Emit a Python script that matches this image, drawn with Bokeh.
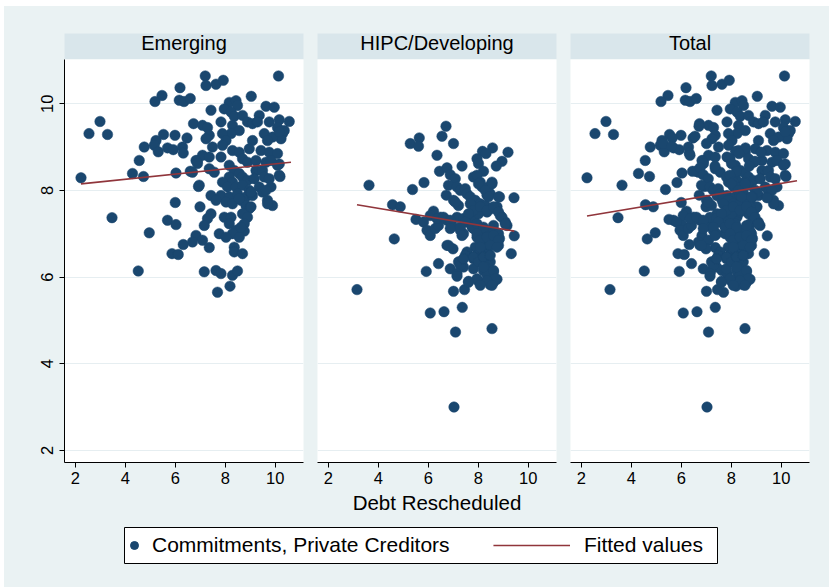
from bokeh.plotting import figure
from bokeh.layouts import row, column, Spacer
from bokeh.models import Range1d, FixedTicker, Label, Legend, LegendItem
from bokeh.embed import file_html
from bokeh.resources import INLINE

# ---------------- data ----------------
panel_titles = ["Emerging", "HIPC/Developing", "Total"]
x_title = "Debt Rescheduled"
series_label = "Commitments, Private Creditors"
fit_label = "Fitted values"
x_ticks = [2, 4, 6, 8, 10]
y_ticks = [2, 4, 6, 8, 10]

emerging_x = [
    7.20, 7.23, 7.63, 7.92, 10.13, 6.19, 5.47, 5.19, 6.16, 6.35,
    6.60, 9.04, 2.99, 2.55, 3.29, 2.23, 7.43, 6.73, 5.99, 5.53,
    5.23, 5.16, 4.76, 5.32, 5.69, 5.92, 6.29, 6.32, 6.47, 4.56,
    6.89, 4.29, 4.73, 6.03, 6.60, 6.93, 6.00, 6.99, 3.47, 5.69,
    10.56, 10.29, 10.23, 10.16, 10.19, 8.16, 8.43, 8.49, 7.96, 8.23,
    8.36, 9.63, 9.96, 8.69, 8.89, 9.09, 9.36, 9.29, 9.76, 10.16,
    10.09, 10.36, 7.09, 7.29, 7.83, 8.29, 8.56, 8.23, 7.89, 8.03,
    7.36, 7.23, 9.09, 9.56, 9.89, 10.16, 9.69, 7.49, 7.89, 8.29,
    8.56, 8.96, 9.43, 9.76, 10.09, 7.09, 6.83, 6.89, 7.36, 7.83,
    8.69, 8.89, 9.23, 9.63, 9.83, 8.16, 8.36, 8.56, 9.23, 9.49,
    10.09, 10.16, 6.69, 7.36, 7.56, 8.16, 8.29, 8.69, 8.89, 9.16,
    9.56, 9.76, 6.96, 7.89, 8.09, 8.43, 8.69, 8.96, 9.36, 9.49,
    9.83, 7.43, 7.83, 8.16, 8.49, 8.83, 9.09, 9.63, 9.69, 8.03,
    8.29, 8.63, 8.83, 8.96, 9.89, 7.43, 7.29, 7.16, 7.96, 8.23,
    8.16, 8.69, 8.89, 8.76, 8.43, 8.76, 8.29, 8.56, 6.83, 7.09,
    6.69, 7.36, 7.76, 8.03, 8.36, 8.36, 8.69, 7.16, 7.63, 7.83,
    8.29, 8.49, 7.69, 8.19, 6.03, 4.96, 6.32, 5.87, 6.12, 4.52,
    9.03, 9.69, 7.63, 8.56, 8.63, 9.03,
]
emerging_y = [
    10.64, 10.42, 10.45, 10.54, 10.64, 10.37, 10.19, 10.05, 10.08, 10.05,
    10.12, 10.17, 9.59, 9.31, 9.29, 8.29, 9.85, 9.54, 9.27, 9.29,
    9.15, 9.04, 9.00, 8.89, 8.98, 8.94, 9.00, 8.86, 9.21, 8.69,
    8.69, 8.39, 8.32, 8.40, 8.44, 8.09, 7.72, 7.62, 7.37, 7.31,
    9.59, 9.31, 9.19, 8.61, 8.32, 10.03, 10.07, 9.96, 9.88, 9.81,
    9.71, 9.94, 9.92, 9.73, 9.58, 9.54, 9.73, 9.58, 9.58, 9.63,
    9.45, 9.38, 9.50, 9.45, 9.58, 9.50, 9.38, 9.31, 9.31, 9.15,
    9.27, 9.19, 9.15, 9.31, 9.23, 9.35, 9.15, 9.00, 9.04, 8.92,
    8.88, 8.96, 8.92, 8.88, 8.85, 8.81, 8.69, 8.62, 8.77, 8.77,
    8.73, 8.65, 8.69, 8.65, 8.69, 8.58, 8.46, 8.39, 8.46, 8.46,
    8.58, 8.35, 8.42, 8.50, 8.42, 8.31, 8.19, 8.31, 8.23, 8.27,
    8.31, 8.27, 8.12, 8.19, 8.08, 8.08, 8.12, 8.00, 8.08, 7.96,
    8.08, 7.88, 7.88, 7.85, 7.92, 7.85, 7.88, 8.00, 7.77, 7.73,
    7.69, 7.77, 7.65, 7.58, 7.65, 7.46, 7.35, 7.19, 7.38, 7.38,
    7.23, 7.46, 7.38, 7.23, 7.08, 7.06, 7.00, 6.92, 6.96, 6.85,
    6.81, 6.68, 7.00, 6.92, 6.69, 6.58, 6.54, 6.12, 6.15, 6.08,
    6.04, 6.14, 5.65, 5.79, 7.21, 7.02, 6.75, 6.54, 6.52, 6.14,
    7.62, 7.69, 7.77, 7.81, 7.15, 7.96,
]

hipc_x = [
    6.71, 6.55, 5.64, 5.28, 5.61, 7.01, 6.35, 8.17, 8.57, 8.31,
    9.19, 7.95, 8.01, 8.95, 8.72, 7.35, 6.45, 6.75, 6.88, 7.08,
    8.21, 7.81, 7.95, 8.08, 8.15, 8.55, 8.41, 8.35, 8.48, 6.81,
    7.15, 7.28, 7.48, 7.55, 3.63, 5.37, 5.83, 6.72, 7.01, 7.21,
    7.68, 7.88, 8.08, 8.28, 8.85, 9.43, 8.75, 8.55, 8.35, 4.57,
    4.88, 6.21, 6.08, 5.51, 6.48, 6.75, 6.95, 7.15, 7.41, 7.61,
    7.81, 8.01, 8.88, 9.08, 9.15, 5.81, 5.95, 6.08, 6.28, 6.41,
    7.28, 7.41, 7.81, 8.08, 8.35, 8.61, 8.81, 8.85, 9.44, 4.64,
    7.95, 8.21, 8.08, 7.88, 8.35, 8.61, 8.81, 6.75, 6.99, 7.55,
    7.48, 7.81, 7.95, 8.21, 8.41, 8.35, 8.48, 9.32, 6.41, 7.21,
    7.41, 7.28, 5.92, 6.88, 7.15, 7.81, 8.21, 8.61, 8.41, 8.28,
    8.35, 8.75, 8.01, 7.61, 8.48, 8.61, 7.15, 7.01, 7.45, 3.15,
    6.08, 6.63, 7.36, 7.09, 8.55, 7.03, 8.01, 8.55, 8.28, 8.41,
    8.81, 7.08, 7.68, 7.81, 7.61, 8.08, 8.35, 8.61, 8.81, 8.95,
    6.35, 6.61, 6.88, 7.48, 6.88, 7.28, 7.35, 7.75, 7.95, 8.21,
    8.61, 9.08, 7.95, 8.08, 8.35, 8.61, 8.81, 8.48, 8.08, 8.75,
    6.81, 7.41, 7.81, 8.01, 8.21, 8.48, 8.21, 8.61, 8.68, 8.35,
    7.95, 7.61, 8.08, 8.55,
]
hipc_y = [
    9.48, 9.25, 9.21, 9.08, 9.02, 9.08, 8.81, 8.90, 8.98, 8.85,
    8.88, 8.73, 8.62, 8.67, 8.56, 8.56, 8.44, 8.52, 8.36, 8.27,
    8.44, 8.31, 8.35, 8.19, 8.08, 8.19, 8.08, 7.89, 7.92, 8.12,
    8.08, 8.00, 8.04, 7.92, 8.12, 8.02, 8.18, 7.89, 7.77, 7.65,
    7.85, 7.77, 7.69, 7.65, 7.85, 7.83, 7.62, 7.58, 7.50, 7.67,
    7.62, 7.52, 7.42, 7.33, 7.38, 7.31, 7.19, 7.38, 7.35, 7.27,
    7.42, 7.46, 7.42, 7.27, 7.19, 7.27, 7.08, 6.96, 7.12, 7.19,
    7.08, 7.00, 7.12, 7.08, 7.04, 7.08, 7.00, 6.89, 6.95, 6.88,
    6.92, 6.85, 6.73, 6.69, 6.69, 6.77, 6.73, 6.73, 6.65, 6.58,
    6.50, 6.42, 6.50, 6.58, 6.54, 6.38, 6.35, 6.54, 6.31, 6.35,
    6.23, 6.27, 6.13, 6.19, 6.08, 6.19, 6.15, 6.12, 6.12, 6.23,
    6.05, 5.95, 5.90, 5.90, 5.82, 5.88, 6.02, 5.67, 5.71, 5.71,
    5.17, 5.20, 5.30, 4.73, 4.81, 3.00, 8.15, 8.15, 8.00, 7.85,
    7.85, 7.73, 7.69, 7.54, 7.46, 7.62, 7.54, 7.62, 7.50, 7.38,
    7.35, 7.38, 7.31, 7.27, 7.12, 7.15, 6.96, 7.15, 7.23, 7.15,
    7.19, 7.23, 7.00, 6.85, 6.92, 6.96, 6.85, 6.73, 6.69, 6.69,
    6.73, 6.42, 6.46, 6.35, 6.46, 6.50, 6.23, 6.15, 5.96, 5.92,
    5.96, 5.88, 5.81, 5.81,
]

# fitted-value lines (end points)
emerging_fit_x = [2.23, 10.63]
emerging_fit_y = [8.15, 8.65]
hipc_fit_x = [3.15, 9.44]
hipc_fit_y = [7.67, 7.06]
total_fit_x = [2.23, 10.63]
total_fit_y = [7.41, 8.22]

# ---------------- style ----------------
NAVY = "#1a476f"
MAROON = "#90353b"
REGION = "#eaf2f3"
STRIP = "#d9e6eb"
GRID = "#e6eef1"
FONT = "Liberation Sans"
FRAME_W = 239
FRAME_H = 403
BOTTOM = 58
borders = [(60, 7), (7, 7), (7, 20)]

panel_data = [
    (emerging_x, emerging_y, emerging_fit_x, emerging_fit_y),
    (hipc_x, hipc_y, hipc_fit_x, hipc_fit_y),
    (emerging_x + hipc_x, emerging_y + hipc_y, total_fit_x, total_fit_y),
]

strips = []
panels = []
for i, (xs, ys, fx, fy) in enumerate(panel_data):
    bl, br = borders[i]
    w = bl + FRAME_W + br

    s = figure(width=w, height=53, x_range=Range1d(0, 1), y_range=Range1d(0, 1),
               min_border_left=bl, min_border_right=br, min_border_top=27, min_border_bottom=0,
               x_axis_location=None, y_axis_location=None, title=None,
               background_fill_color=STRIP, border_fill_color=REGION,
               outline_line_color=None, toolbar_location=None, output_backend="svg")
    s.grid.visible = False
    s.add_layout(Label(x=0.5, y=0.63, text=panel_titles[i], text_align="center",
                       text_baseline="middle", text_font=FONT, text_font_size="20px",
                       text_color="black"))
    strips.append(s)

    p = figure(width=w, height=FRAME_H + BOTTOM,
               x_range=Range1d(1.57, 11.13), y_range=Range1d(1.72, 11.02),
               min_border_left=bl, min_border_right=br, min_border_top=0,
               min_border_bottom=BOTTOM, title=None,
               y_axis_location="left" if i == 0 else None,
               background_fill_color="white", border_fill_color=REGION,
               outline_line_color=None, toolbar_location=None, output_backend="svg")
    p.xgrid.visible = False
    p.ygrid.ticker = FixedTicker(ticks=y_ticks)
    p.ygrid.grid_line_color = GRID
    p.ygrid.grid_line_width = 1

    xa = p.xaxis[0]
    xa.ticker = FixedTicker(ticks=x_ticks)
    xa.axis_line_color = "black"
    xa.major_tick_line_color = "black"
    xa.major_tick_out = 5
    xa.major_tick_in = 0
    xa.minor_tick_line_color = None
    xa.major_label_text_font = FONT
    xa.major_label_text_font_size = "16.5px"
    xa.major_label_text_color = "black"
    xa.major_label_standoff = 4
    if i == 1:
        xa.axis_label = x_title
        xa.axis_label_text_font = FONT
        xa.axis_label_text_font_size = "20.5px"
        xa.axis_label_text_font_style = "normal"
        xa.axis_label_text_color = "black"
        xa.axis_label_standoff = 4

    if i == 0:
        ya = p.yaxis[0]
        ya.ticker = FixedTicker(ticks=y_ticks)
        ya.axis_line_color = "black"
        ya.major_tick_line_color = "black"
        ya.major_tick_out = 5
        ya.major_tick_in = 0
        ya.minor_tick_line_color = None
        ya.major_label_orientation = "vertical"
        ya.major_label_text_font = FONT
        ya.major_label_text_font_size = "16.5px"
        ya.major_label_text_color = "black"
        ya.major_label_standoff = 6

    p.scatter(xs, ys, size=10.5, fill_color=NAVY, line_color=NAVY, line_width=0.5)
    p.line(fx, fy, line_color=MAROON, line_width=1.6)
    panels.append(p)

# ---------------- legend ----------------
lg = figure(width=825, height=67, x_range=Range1d(0, 1), y_range=Range1d(0, 1),
            min_border_left=120, min_border_right=112, min_border_top=7, min_border_bottom=24,
            x_axis_location=None, y_axis_location=None, title=None,
            background_fill_color="white", border_fill_color=REGION,
            outline_line_color="black", outline_line_width=1,
            toolbar_location=None, output_backend="svg")
lg.grid.visible = False
# legend-only renderers (hidden; their glyphs are shown in the legend)
r1 = lg.scatter(emerging_x, emerging_y, fill_color=NAVY, line_color=NAVY, size=10, visible=False)
r2 = lg.line(emerging_fit_x, emerging_fit_y, line_color=MAROON, line_width=1.6, visible=False)

leg1 = Legend(items=[LegendItem(label=series_label, renderers=[r1])], location="left",
              margin=0, padding=2, glyph_width=20, glyph_height=24, label_standoff=8,
              label_text_font=FONT, label_text_font_size="21px", label_text_color="black",
              background_fill_alpha=0, border_line_color=None)
leg2 = Legend(items=[LegendItem(label=fit_label, renderers=[r2])], location="right",
              margin=14, padding=5, glyph_width=77, glyph_height=24, label_standoff=14,
              label_text_font=FONT, label_text_font_size="21px", label_text_color="black",
              background_fill_alpha=0, border_line_color=None)
lg.add_layout(leg1)
lg.add_layout(leg2)

main = column(row(*strips), row(*panels), lg, styles={"background-color": REGION})
layout = column(Spacer(height=6), row(Spacer(width=4), main))
open("out.html", "w").write(file_html(layout, INLINE))
